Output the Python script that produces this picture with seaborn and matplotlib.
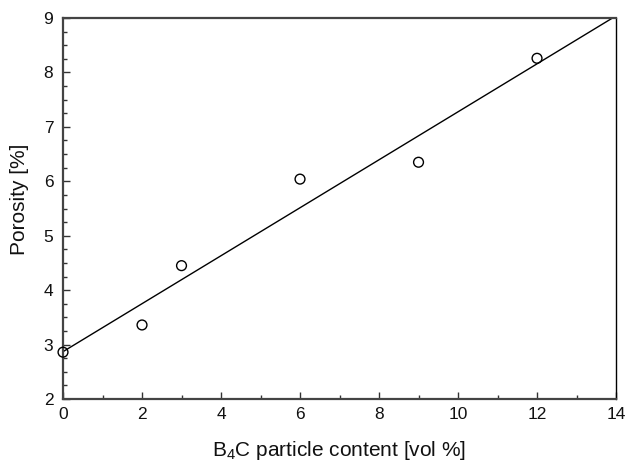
import numpy as np
import pandas as pd
import matplotlib
matplotlib.use("Agg")
import matplotlib.pyplot as plt
import seaborn as sns
from matplotlib.ticker import MultipleLocator

b4c_content = [0, 2, 3, 6, 9, 12]
porosity = [2.86, 3.36, 4.45, 6.04, 6.35, 8.26]

x_ticks = [0, 2, 4, 6, 8, 10, 12, 14]
y_ticks = [2, 3, 4, 5, 6, 7, 8, 9]


def main():
    df = pd.DataFrame({"content": b4c_content, "porosity": porosity})

    sns.set_style("ticks")
    plt.rcParams["font.family"] = ["Liberation Sans", "DejaVu Sans"]
    plt.rcParams["mathtext.fontset"] = "custom"
    plt.rcParams["mathtext.rm"] = "Liberation Sans"
    plt.rcParams["mathtext.it"] = "Liberation Sans"

    fig, ax = plt.subplots(figsize=(6.27, 4.62), dpi=100)
    ax.set_xlim(0, 14)
    ax.set_ylim(2, 9)

    sns.regplot(data=df, x="content", y="porosity", ax=ax, ci=None,
                truncate=False, scatter=False,
                line_kws={"color": "black", "lw": 1.0})
    ax.scatter(df["content"], df["porosity"], s=50, facecolors="none",
               edgecolors="black", linewidths=1.0, zorder=3, clip_on=False)

    ax.set_xlim(0, 14)
    ax.set_ylim(2, 9)
    ax.set_xticks(x_ticks)
    ax.set_yticks(y_ticks)
    ax.xaxis.set_minor_locator(MultipleLocator(1))
    ax.yaxis.set_minor_locator(MultipleLocator(0.25))
    ax.tick_params(which="both", direction="in", top=False, right=False,
                   labelsize=12.5, color="#333333", labelcolor="#111111")
    ax.tick_params(axis="y", pad=7)
    ax.tick_params(axis="x", pad=6)
    ax.tick_params(which="major", length=5, width=1)
    ax.tick_params(which="minor", length=3, width=1)

    for side in ["left", "bottom", "top"]:
        ax.spines[side].set_linewidth(1.6)
        ax.spines[side].set_color("#444444")
    ax.spines["right"].set_linewidth(1.0)
    ax.spines["right"].set_color("black")

    ax.set_xlabel("B$_4$C particle content [vol %]", fontsize=15, labelpad=12,
                  color="#111111")
    ax.set_ylabel("Porosity [%]", fontsize=15, color="#111111")
    ax.yaxis.set_label_coords(-0.062, 0.525)

    fig.subplots_adjust(left=0.1005, right=0.9825, top=0.961, bottom=0.1364)
    fig.savefig("out.png")


if __name__ == "__main__":
    main()
